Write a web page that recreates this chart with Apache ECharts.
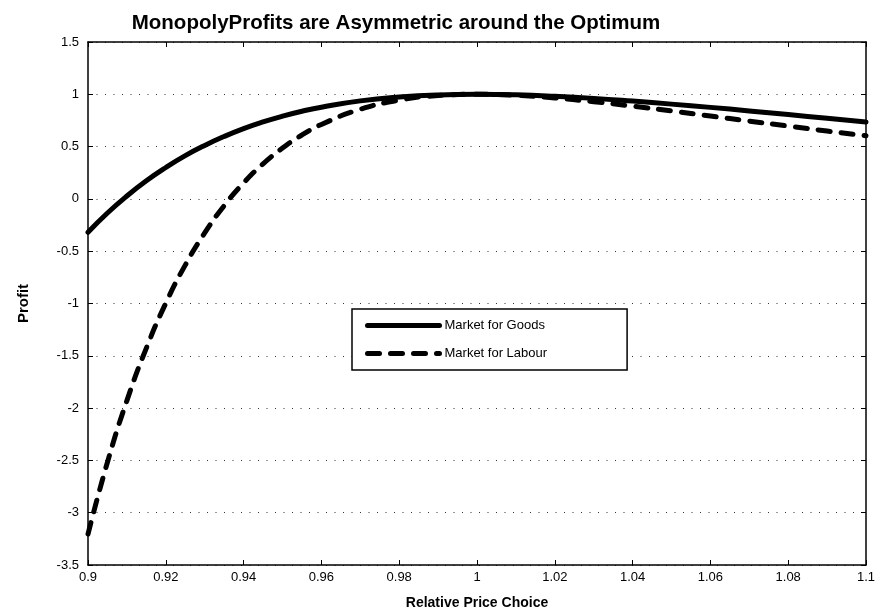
<!DOCTYPE html>
<html>
<head>
<meta charset="utf-8">
<script src="https://cdn.jsdelivr.net/npm/echarts@6/dist/echarts.min.js"></script>
<style>
html,body{margin:0;padding:0;background:#fff;}
#chart{width:880px;height:615px;}
</style>
</head>
<body>
<div id="chart"></div>
<script>
// Relative price choice (x)
var priceChoice = [0.900, 0.905, 0.910, 0.915, 0.920, 0.925, 0.930, 0.935, 0.940, 0.945, 0.950, 0.955, 0.960,
  0.970, 0.980, 0.990, 1.000, 1.010, 1.020, 1.030, 1.040, 1.050, 1.060, 1.070, 1.080, 1.090, 1.100];
// Market for Goods profit
var goodsProfit = [-0.319, -0.135, 0.028, 0.173, 0.300, 0.413, 0.511, 0.597, 0.672, 0.736, 0.791, 0.838, 0.877,
  0.937, 0.974, 0.994, 1.000, 0.995, 0.981, 0.961, 0.935, 0.906, 0.875, 0.841, 0.806, 0.771, 0.736];
// Market for Labour profit
var labourProfit = [-3.204, -2.517, -1.928, -1.426, -0.997, -0.633, -0.325, -0.065, 0.153, 0.335, 0.486, 0.611, 0.712,
  0.857, 0.944, 0.988, 1.000, 0.990, 0.965, 0.929, 0.887, 0.841, 0.792, 0.744, 0.696, 0.649, 0.604];
var seriesNames = ['Market for Goods', 'Market for Labour'];
var titleText = 'MonopolyProfits are Asymmetric around the Optimum';
var xName = 'Relative Price Choice';
var yName = 'Profit';

function pairs(xs, ys){ return xs.map(function(x, i){ return [x, ys[i]]; }); }

var chart = echarts.init(document.getElementById('chart'), null, {renderer:'canvas'});
var axisLine = {show:true, onZero:false, lineStyle:{color:'#000', width:1.5}};
var tick = {show:true, inside:true, length:5, lineStyle:{color:'#000', width:1}};
var font = 'Liberation Sans, Arial, sans-serif';
chart.setOption({
  animation:false,
  backgroundColor:'#fff',
  title:{
    text:titleText, left:391, top:8, textAlign:'center',
    textStyle:{fontFamily:font, fontWeight:'bold', fontSize:20.5, color:'#000'}
  },
  legend:{
    orient:'vertical', left:352, top:309,
    data:seriesNames,
    itemWidth:72, itemHeight:14, itemGap:15,
    padding:[10, 80, 10, 13],
    borderColor:'#000', borderWidth:1.5, backgroundColor:'#fff',
    itemStyle:{opacity:0},
    lineStyle:{width:5, cap:'round'},
    textStyle:{fontFamily:font, fontSize:13, color:'#000'}
  },
  grid:{left:88, right:14, top:42, bottom:50, containLabel:false},
  xAxis:[{
    type:'value', min:0.9, max:1.1, interval:0.02, position:'bottom',
    name:xName, nameLocation:'middle', nameGap:31,
    nameTextStyle:{fontFamily:font, fontWeight:'bold', fontSize:14, color:'#000'},
    axisLine:axisLine, axisTick:tick, splitLine:{show:false},
    axisLabel:{fontFamily:font, fontSize:13, color:'#000', margin:6,
      formatter:function(v){ return String(+v.toFixed(2)); }}
  },{
    type:'value', min:0.9, max:1.1, interval:0.02, position:'top',
    axisLine:axisLine, axisTick:tick, splitLine:{show:false}, axisLabel:{show:false}
  }],
  yAxis:[{
    type:'value', min:-3.5, max:1.5, interval:0.5, position:'left',
    name:yName, nameLocation:'middle', nameGap:57,
    nameTextStyle:{fontFamily:font, fontWeight:'bold', fontSize:15, color:'#000'},
    axisLine:axisLine, axisTick:tick,
    splitLine:{show:true, lineStyle:{color:'#333', width:1, type:[1,7.5]}},
    axisLabel:{fontFamily:font, fontSize:13, color:'#000', margin:9,
      formatter:function(v){ return String(+v.toFixed(1)); }}
  },{
    type:'value', min:-3.5, max:1.5, interval:0.5, position:'right',
    axisLine:axisLine, axisTick:tick, splitLine:{show:false}, axisLabel:{show:false}
  }],
  series:[{
    name:seriesNames[0], type:'line', smooth:true, symbol:'none',
    data:pairs(priceChoice, goodsProfit),
    lineStyle:{color:'#000', width:5, cap:'round'},
    itemStyle:{color:'#000'}
  },{
    name:seriesNames[1], type:'line', smooth:true, symbol:'none',
    data:pairs(priceChoice, labourProfit),
    lineStyle:{color:'#000', width:5, type:[12,11], cap:'round'},
    itemStyle:{color:'#000'}
  }]
});
</script>
</body>
</html>
